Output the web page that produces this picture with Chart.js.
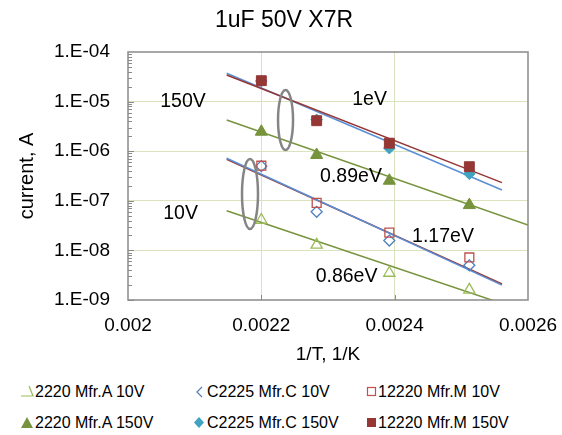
<!DOCTYPE html>
<html>
<head>
<meta charset="utf-8">
<script src="https://cdn.jsdelivr.net/npm/chart.js@4.4.1/dist/chart.umd.min.js"></script>
<style>
  html, body { margin: 0; padding: 0; background: #fff; }
  #wrap { position: relative; width: 562px; height: 435px; font-family: "Liberation Sans", Arial, sans-serif; }
  #chartBox { position: absolute; left: 0; top: 0; width: 562px; height: 375px; }
  #legend { position: absolute; left: 0; top: 375px; width: 562px; height: 60px; }
  .mark { position: absolute; width: 14px; height: 14px; }
  .name { position: absolute; font-size: 16px; line-height: 20px; height: 20px; color: #000; white-space: nowrap; }
</style>
</head>
<body>
<div id="wrap">
  <div id="chartBox"><canvas id="arrhenius"></canvas></div>
  <div id="legend"></div>
</div>
<script>
// 1/T (1/K) of the four test temperatures
const invT = [0.0022, 0.002283, 0.002392, 0.002512];

// leakage current, A
const mfrA10V  = [4.1e-8, 1.29e-8, 3.5e-9, 1.6e-9];
const mfrC10V  = [5.0e-7, 6.0e-8, 1.58e-8, 5.0e-9];
const mfrM10V  = [5.1e-7, 9.1e-8, 2.28e-8, 7.2e-9];
const mfrA150V = [2.47e-6, 8.4e-7, 2.54e-7, 8.2e-8];
const mfrC150V = [2.6e-5, 4.3e-6, 1.15e-6, 3.5e-7];
const mfrM150V = [2.64e-5, 4.12e-6, 1.45e-6, 4.87e-7];

// exponential trend lines, end points
const fitX     = [0.002148, 0.002561];
const fitXLong = [0.002148, 0.0026];
const fitA10V  = [6.3e-8, 8.5e-10];
const fitM10V  = [6.9e-7, 2.1e-9];
const fitC10V  = [7.2e-7, 2.0e-9];
const fitA150V = [4.26e-6, 3.25e-8];
const fitM150V = [3.44e-5, 2.32e-7];
const fitC150V = [3.73e-5, 1.65e-7];

const seriesNames = ['2220 Mfr.A 10V', 'C2225 Mfr.C 10V', '12220 Mfr.M 10V',
                     '2220 Mfr.A 150V', 'C2225 Mfr.C 150V', '12220 Mfr.M 150V'];

const chartTitle = '1uF 50V X7R';
const xTicks = [0.002, 0.0022, 0.0024, 0.0026];
const xTickLabels = ['0.002', '0.0022', '0.0024', '0.0026'];
const yTicks = [1e-9, 1e-8, 1e-7, 1e-6, 1e-5, 1e-4];
const yTickLabels = ['1.E-09', '1.E-08', '1.E-07', '1.E-06', '1.E-05', '1.E-04'];

// activation energy notes and voltage group labels
const noteTexts = ['150V', '1eV', '0.89eV', '10V', '1.17eV', '0.86eV'];
const noteX = [0.0020825, 0.0023623, 0.0023345, 0.0020788, 0.0024725, 0.0023278];
const noteY = [1.0e-5, 1.08e-5, 3.02e-7, 5.55e-8, 1.89e-8, 2.91e-9];

// rings around each voltage group
const ringX = [0.0022363, 0.002183];
const ringY = [4.26e-6, 1.37e-7];

const gridColor = '#d9e4bf';
const frameColor = '#8a8a8a';
const clear = 'rgba(0,0,0,0)';
const FONT = '"Liberation Sans", Arial, sans-serif';

const green = '#77933c', greenLight = '#9bbb59';
const blue = '#4f81bd', blueLine = '#5a8fd6';
const teal = '#3fa3c2';
const red = '#953735', redLight = '#c0504d';

function toPoints(xs, ys) {
  return xs.map((x, i) => ({ x: x, y: ys[i] }));
}

// later series sit on top of earlier ones
function markerSet(i, ys, style, radius, fill, stroke, width) {
  return {
    label: seriesNames[i],
    data: toPoints(invT, ys),
    showLine: false,
    pointStyle: style,
    pointRadius: radius,
    pointHoverRadius: radius,
    backgroundColor: fill,
    borderColor: stroke,
    pointBorderWidth: width,
    order: seriesNames.length - i
  };
}

function fitSet(xs, ys, color) {
  return {
    label: '',
    data: toPoints(xs, ys),
    showLine: true,
    borderColor: color,
    borderWidth: 1.5,
    pointRadius: 0,
    pointHoverRadius: 0,
    fill: false,
    clip: 0,
    order: 20
  };
}

// title, frame, inner tick marks, rings and notes
const decorations = {
  id: 'decorations',
  afterDatasetsDraw(chart) {
    const ctx = chart.ctx;
    const a = chart.chartArea;
    const xs = chart.scales.x, ys = chart.scales.y;
    ctx.save();

    // minor/major ticks on the inside of the value axis
    ctx.strokeStyle = frameColor;
    ctx.lineWidth = 1;
    ctx.beginPath();
    for (let e = -9; e <= -5; e++) {
      for (let m = 1; m <= 9; m++) {
        const py = Math.round(ys.getPixelForValue(m * Math.pow(10, e))) + 0.5;
        ctx.moveTo(a.left, py);
        ctx.lineTo(a.left + (m === 1 ? 6 : 4), py);
      }
    }
    xTicks.slice(1, -1).forEach(v => {
      const px = Math.round(xs.getPixelForValue(v)) + 0.5;
      ctx.moveTo(px, a.bottom);
      ctx.lineTo(px, a.bottom - 5);
    });
    ctx.stroke();

    // plot frame
    ctx.lineWidth = 1.5;
    ctx.strokeRect(a.left, a.top, a.right - a.left, a.bottom - a.top);

    // group rings
    ctx.strokeStyle = '#858585';
    ctx.lineWidth = 2.5;
    const radii = [[7.5, 30], [8, 35]];
    ringX.forEach((v, i) => {
      ctx.beginPath();
      ctx.ellipse(xs.getPixelForValue(v), ys.getPixelForValue(ringY[i]), radii[i][0], radii[i][1], 0, 0, Math.PI * 2);
      ctx.stroke();
    });

    ctx.fillStyle = '#000';
    ctx.textAlign = 'center';
    ctx.textBaseline = 'middle';

    // notes
    ctx.font = '19.5px ' + FONT;
    noteTexts.forEach((t, i) => {
      ctx.fillText(t, xs.getPixelForValue(noteX[i]), ys.getPixelForValue(noteY[i]));
    });

    // chart title, centred on the whole figure
    ctx.font = '23px ' + FONT;
    ctx.fillText(chartTitle, chart.width / 2 + 3, 21);
    ctx.restore();
  }
};

const ctx = document.getElementById('arrhenius').getContext('2d');
const chart = new Chart(ctx, {
  type: 'scatter',
  data: {
    datasets: [
      markerSet(0, mfrA10V, 'triangle', 6.5, clear, greenLight, 1.3),
      markerSet(1, mfrC10V, 'rectRot', 5.5, clear, blue, 1.3),
      markerSet(2, mfrM10V, 'rect', 6.3, clear, redLight, 1.3),
      markerSet(3, mfrA150V, 'triangle', 7, green, green, 1),
      markerSet(4, mfrC150V, 'rectRot', 5.8, teal, teal, 1),
      markerSet(5, mfrM150V, 'rect', 7, red, red, 1),
      // earlier entries are drawn last, so the blue 10V fit covers the red one
      fitSet(fitX, fitA10V, green),
      fitSet(fitX, fitC10V, blueLine),
      fitSet(fitX, fitM10V, red),
      fitSet(fitXLong, fitA150V, green),
      fitSet(fitX, fitM150V, red),
      fitSet(fitX, fitC150V, blueLine)
    ]
  },
  options: {
    responsive: true,
    maintainAspectRatio: false,
    animation: false,
    layout: { padding: { left: 0, right: 34, top: 52, bottom: 0 } },
    plugins: {
      legend: { display: false },
      tooltip: { enabled: false }
    },
    scales: {
      x: {
        type: 'linear',
        min: 0.002,
        max: 0.0026,
        afterBuildTicks: s => { s.ticks = xTicks.map(v => ({ value: v })); },
        afterFit: s => { s.height = 75; s.paddingLeft = 0; s.paddingRight = 0; },
        ticks: {
          callback: (v, i) => xTickLabels[i],
          color: '#000',
          font: { family: FONT, size: 19 },
          padding: 14,
          maxRotation: 0,
          autoSkip: false
        },
        grid: {
          color: c => (c.index > 0 && c.index < xTicks.length - 1) ? gridColor : clear,
          drawTicks: false,
          lineWidth: 1
        },
        border: { display: false },
        title: {
          display: true,
          text: '1/T, 1/K',
          color: '#000',
          font: { family: FONT, size: 19 },
          padding: { top: 0, bottom: 9 }
        }
      },
      y: {
        type: 'logarithmic',
        min: 1e-9,
        max: 1e-4,
        afterBuildTicks: s => { s.ticks = yTicks.map(v => ({ value: v })); },
        afterFit: s => { s.width = 128; s.paddingTop = 0; s.paddingBottom = 0; },
        ticks: {
          callback: (v, i) => yTickLabels[i],
          color: '#000',
          font: { family: FONT, size: 19 },
          padding: 18,
          autoSkip: false
        },
        grid: {
          color: c => (c.index > 0 && c.index < yTicks.length - 1) ? gridColor : clear,
          drawTicks: false,
          lineWidth: 1
        },
        border: { display: false },
        title: {
          display: true,
          text: 'current, A',
          color: '#000',
          font: { family: FONT, size: 20 },
          padding: { top: 15, bottom: 0 }
        }
      }
    }
  },
  plugins: [decorations]
});

// legend below the plot, three columns by two rows
const legendMarks = [
  '<polyline points="9,1 13,11 1,11" fill="none" stroke="' + greenLight + '" stroke-width="1.2"/>',
  '<polyline points="9,2 4,7 9,12" fill="none" stroke="' + blue + '" stroke-width="1.2"/>',
  '<rect x="1.5" y="2.5" width="8" height="8" fill="none" stroke="' + redLight + '" stroke-width="1.2"/>',
  '<polygon points="7,1 13,12 1,12" fill="' + green + '"/>',
  '<polygon points="6,1 11,6.5 6,12 1,6.5" fill="' + teal + '"/>',
  '<rect x="1" y="2" width="9" height="9" fill="' + red + '"/>'
];
const markLeft = [20, 193, 366];
const nameLeft = [35, 207, 378];
const rowMid = [17, 48];
const legend = document.getElementById('legend');
seriesNames.forEach((name, i) => {
  const col = i % 3, row = Math.floor(i / 3);
  const mark = document.createElement('div');
  mark.className = 'mark';
  mark.style.left = markLeft[col] + 'px';
  mark.style.top = (rowMid[row] - 7) + 'px';
  mark.innerHTML = '<svg width="14" height="14" viewBox="0 0 14 14">' + legendMarks[i] + '</svg>';
  legend.appendChild(mark);
  const label = document.createElement('div');
  label.className = 'name';
  label.style.left = nameLeft[col] + 'px';
  label.style.top = (rowMid[row] - 10) + 'px';
  label.textContent = name;
  legend.appendChild(label);
});
</script>
</body>
</html>
